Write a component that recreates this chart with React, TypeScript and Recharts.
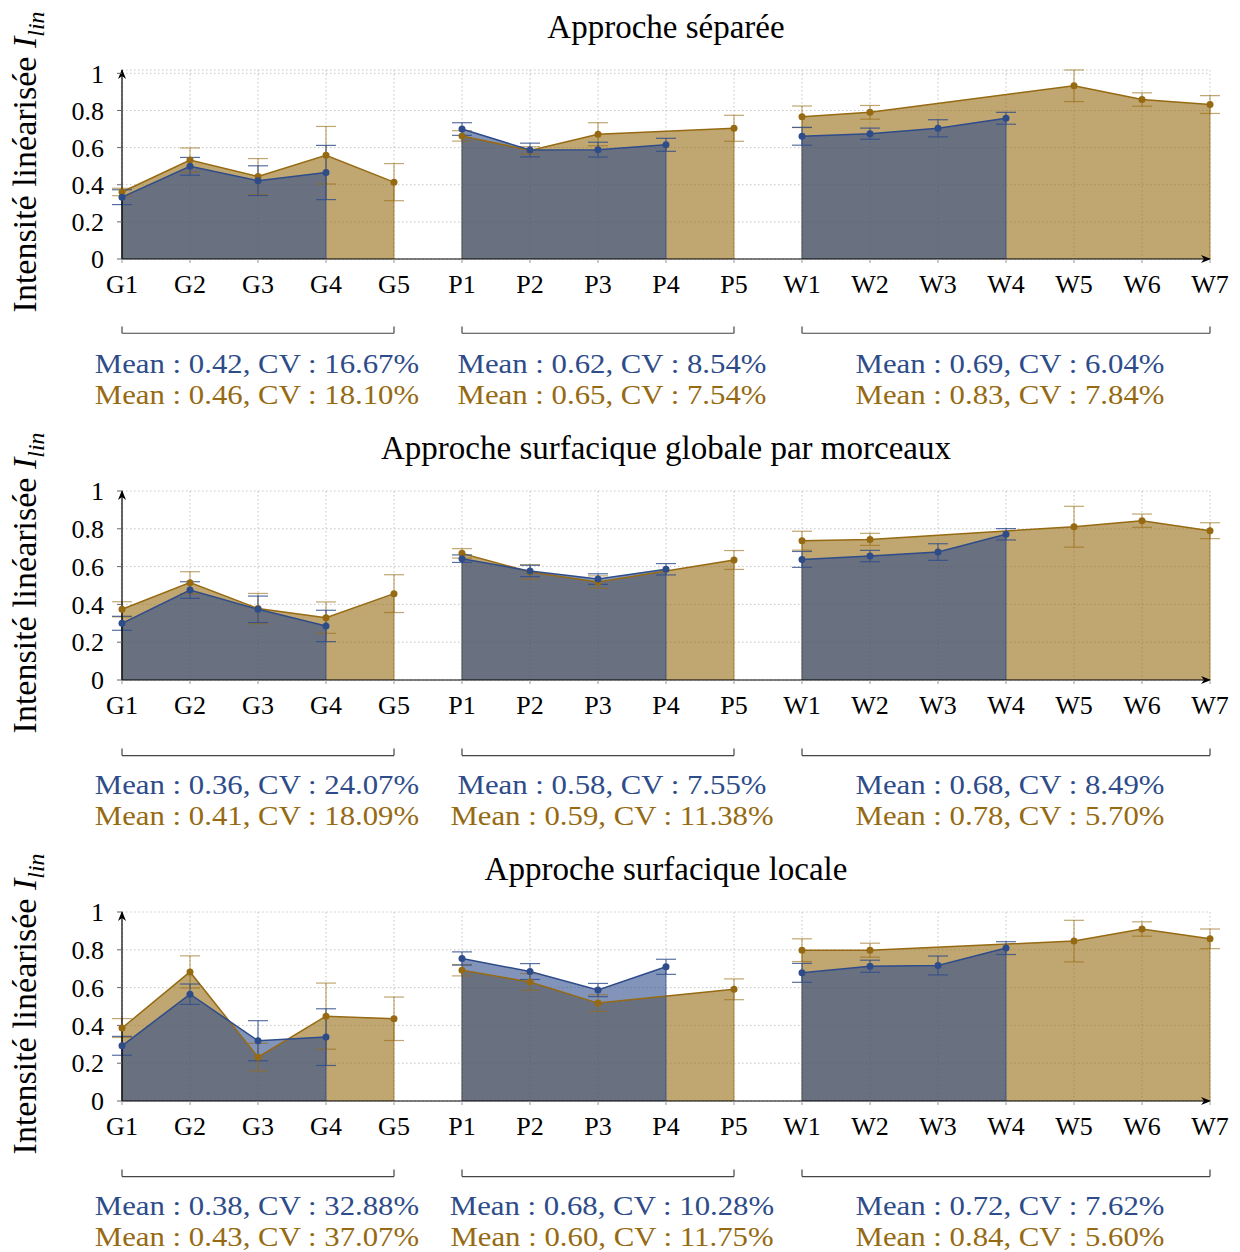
import { ComposedChart, Area, Line, XAxis, YAxis, CartesianGrid, ErrorBar, ReferenceLine } from 'recharts'

const CATEGORIES = ['G1', 'G2', 'G3', 'G4', 'G5', 'P1', 'P2', 'P3', 'P4', 'P5', 'W1', 'W2', 'W3', 'W4', 'W5', 'W6', 'W7']
const GROUPS = ['G', 'P', 'W']
const Y_TICKS = [0, 0.2, 0.4, 0.6, 0.8, 1]

// Approche séparée
const SEP_BLUE = [0.333, 0.499, 0.422, 0.466, null, 0.7, 0.587, 0.589, 0.615, null, 0.661, 0.675, 0.704, 0.758, null, null, null]
const SEP_BLUE_ERR = [0.04, 0.048, 0.08, 0.146, null, 0.034, 0.037, 0.04, 0.035, null, 0.048, 0.03, 0.046, 0.032, null, null, null]
const SEP_GOLD = [0.361, 0.533, 0.444, 0.559, 0.414, 0.663, 0.585, 0.672, null, 0.704, 0.766, 0.79, null, null, 0.933, 0.859, 0.832]
const SEP_GOLD_ERR = [0.02, 0.065, 0.097, 0.155, 0.1, 0.028, 0.02, 0.062, null, 0.07, 0.058, 0.037, null, null, 0.085, 0.036, 0.048]
const SEP_STATS_BLUE = ['Mean : 0.42, CV : 16.67%', 'Mean : 0.62, CV : 8.54%', 'Mean : 0.69, CV : 6.04%']
const SEP_STATS_GOLD = ['Mean : 0.46, CV : 18.10%', 'Mean : 0.65, CV : 7.54%', 'Mean : 0.83, CV : 7.84%']

// Approche surfacique globale par morceaux
const GLOB_BLUE = [0.3, 0.476, 0.374, 0.286, null, 0.642, 0.577, 0.534, 0.586, null, 0.638, 0.656, 0.677, 0.771, null, null, null]
const GLOB_BLUE_ERR = [0.037, 0.044, 0.07, 0.083, null, 0.02, 0.03, 0.028, 0.03, null, 0.042, 0.03, 0.044, 0.03, null, null, null]
const GLOB_GOLD = [0.374, 0.515, 0.378, 0.33, 0.457, 0.67, 0.572, 0.518, null, 0.635, 0.737, 0.744, null, null, 0.811, 0.843, 0.79]
const GLOB_GOLD_ERR = [0.04, 0.058, 0.08, 0.083, 0.1, 0.025, 0.038, 0.033, null, 0.05, 0.05, 0.032, null, null, 0.108, 0.035, 0.042]
const GLOB_STATS_BLUE = ['Mean : 0.36, CV : 24.07%', 'Mean : 0.58, CV : 7.55%', 'Mean : 0.68, CV : 8.49%']
const GLOB_STATS_GOLD = ['Mean : 0.41, CV : 18.09%', 'Mean : 0.59, CV : 11.38%', 'Mean : 0.78, CV : 5.70%']

// Approche surfacique locale
const LOC_BLUE = [0.292, 0.565, 0.319, 0.338, null, 0.754, 0.685, 0.587, 0.71, null, 0.678, 0.713, 0.717, 0.809, null, null, null]
const LOC_BLUE_ERR = [0.05, 0.054, 0.106, 0.15, null, 0.035, 0.042, 0.035, 0.04, null, 0.05, 0.032, 0.05, 0.034, null, null, null]
const LOC_GOLD = [0.386, 0.683, 0.232, 0.449, 0.435, 0.692, 0.63, 0.518, null, 0.591, 0.798, 0.798, null, null, 0.846, 0.91, 0.858]
const LOC_GOLD_ERR = [0.05, 0.085, 0.073, 0.175, 0.115, 0.03, 0.044, 0.044, null, 0.055, 0.06, 0.037, null, null, 0.11, 0.038, 0.052]
const LOC_STATS_BLUE = ['Mean : 0.38, CV : 32.88%', 'Mean : 0.68, CV : 10.28%', 'Mean : 0.72, CV : 7.62%']
const LOC_STATS_GOLD = ['Mean : 0.43, CV : 37.07%', 'Mean : 0.60, CV : 11.75%', 'Mean : 0.84, CV : 5.60%']

const BLUE = '#2e4c8a'
const GOLD = '#966a12'
const FONT = '"Liberation Serif", "DejaVu Serif", serif'
const W = 1240
const H = 421
const STAT_X = [257, 612, 1010]

function buildRows(blue, blueErr, gold, goldErr) {
  return CATEGORIES.map((cat, i) => {
    const g = cat[0]
    const row: any = { cat }
    row['blue' + g] = blue[i]
    row['blue' + g + 'Err'] = blueErr[i]
    row['gold' + g] = gold[i]
    row['gold' + g + 'Err'] = goldErr[i]
    return row
  })
}

function groupRange(g) {
  const cats = CATEGORIES.filter((c) => c[0] === g)
  return [cats[0], cats[cats.length - 1]]
}

// first and last defined point of a series within each group (closing edges of the fills)
function groupEdges(values) {
  const out = []
  GROUPS.forEach((g) => {
    const idx = CATEGORIES.map((c, i) => i).filter((i) => CATEGORIES[i][0] === g && values[i] != null)
    if (idx.length) {
      out.push({ cat: CATEGORIES[idx[0]], v: values[idx[0]] })
      out.push({ cat: CATEGORIES[idx[idx.length - 1]], v: values[idx[idx.length - 1]] })
    }
  })
  return out
}

function Panel({ title, id, blue, blueErr, gold, goldErr, statsBlue, statsGold }) {
  const rows = buildRows(blue, blueErr, gold, goldErr)
  const statStyle = { position: 'absolute', transform: 'translate(-50%,-50%) scaleX(1.14)', fontSize: 27, lineHeight: '26px', whiteSpace: 'nowrap' } as const
  return (
    <div style={{ position: 'relative', width: W, height: H, fontFamily: FONT }}>
      <ComposedChart width={W} height={H} data={rows} margin={{ top: 70, right: 30, left: 62, bottom: 132 }}>
        <defs>
          <marker id={'arr' + id} viewBox="0 0 10 8" refX="9" refY="4" markerWidth="10" markerHeight="8" markerUnits="userSpaceOnUse" orient="auto-start-reverse">
            <path d="M0,0 L10,4 L0,8 L3,4 z" fill="#000" />
          </marker>
        </defs>
        <CartesianGrid stroke="#c4c4c4" strokeDasharray="1.5 2.5" />
        <XAxis
          dataKey="cat"
          scale="point"
          padding={{ left: 0, right: 0 }}
          interval={0}
          height={30}
          tickSize={4}
          tickMargin={12}
          tickLine={{ stroke: '#999' }}
          axisLine={{ stroke: '#000', strokeWidth: 1.2, markerEnd: `url(#arr${id})` }}
          tick={{ fill: '#000', fontSize: 26, fontFamily: FONT }}
        />
        <YAxis
          domain={[0, 1]}
          ticks={Y_TICKS}
          width={60}
          tickSize={5}
          tickMargin={13}
          tickLine={{ stroke: '#666' }}
          axisLine={{ stroke: '#000', strokeWidth: 1.2, markerStart: `url(#arr${id})` }}
          tickFormatter={(v) => String(v)}
          tick={{ fill: '#000', fontSize: 26, fontFamily: FONT }}
        />
        {GROUPS.map((g) => (
          <Area key={'ga' + g} dataKey={'gold' + g} type="linear" connectNulls fill={GOLD} fillOpacity={0.6} stroke="none" isAnimationActive={false} dot={false} activeDot={false} />
        ))}
        {groupEdges(gold).map((e, i) => (
          <ReferenceLine key={'ge' + i} stroke={GOLD} strokeOpacity={0.6} strokeWidth={1.2} segment={[{ x: e.cat, y: 0 }, { x: e.cat, y: e.v }]} />
        ))}
        {GROUPS.map((g) => (
          <Line key={'gl' + g} dataKey={'gold' + g} type="linear" connectNulls stroke={GOLD} strokeWidth={1.5} dot={false} activeDot={false} isAnimationActive={false}>
            <ErrorBar dataKey={'gold' + g + 'Err'} width={10} stroke={GOLD} strokeOpacity={0.6} strokeWidth={1.2} />
          </Line>
        ))}
        {GROUPS.map((g) => (
          <Area key={'ba' + g} dataKey={'blue' + g} type="linear" connectNulls fill={BLUE} fillOpacity={0.6} stroke="none" isAnimationActive={false} dot={false} activeDot={false} />
        ))}
        {groupEdges(blue).map((e, i) => (
          <ReferenceLine key={'be' + i} stroke={BLUE} strokeOpacity={0.6} strokeWidth={1.2} segment={[{ x: e.cat, y: 0 }, { x: e.cat, y: e.v }]} />
        ))}
        {GROUPS.map((g) => (
          <Line key={'bl' + g} dataKey={'blue' + g} type="linear" connectNulls stroke={BLUE} strokeWidth={1.5} dot={false} activeDot={false} isAnimationActive={false}>
            <ErrorBar dataKey={'blue' + g + 'Err'} width={10} stroke={BLUE} strokeOpacity={0.8} strokeWidth={1.2} />
          </Line>
        ))}
        {GROUPS.map((g) => (
          <Line key={'gm' + g} dataKey={'gold' + g} stroke="none" dot={{ r: 3.5, fill: GOLD, stroke: GOLD, strokeWidth: 0 }} activeDot={false} isAnimationActive={false} />
        ))}
        {GROUPS.map((g) => (
          <Line key={'bm' + g} dataKey={'blue' + g} stroke="none" dot={{ r: 3.5, fill: BLUE, stroke: BLUE, strokeWidth: 0 }} activeDot={false} isAnimationActive={false} />
        ))}
        {GROUPS.map((g) => {
          const [a, b] = groupRange(g)
          return [
            <ReferenceLine key={'bh' + g} ifOverflow="visible" stroke="#444" strokeWidth={1.2} segment={[{ x: a, y: -0.4 }, { x: b, y: -0.4 }]} />,
            <ReferenceLine key={'bl' + g} ifOverflow="visible" stroke="#444" strokeWidth={1.2} segment={[{ x: a, y: -0.4 }, { x: a, y: -0.363 }]} />,
            <ReferenceLine key={'br' + g} ifOverflow="visible" stroke="#444" strokeWidth={1.2} segment={[{ x: b, y: -0.4 }, { x: b, y: -0.363 }]} />,
          ]
        })}
      </ComposedChart>
      <div style={{ position: 'absolute', left: 666, top: 27, transform: 'translate(-50%,-50%)', fontSize: 33, whiteSpace: 'nowrap', color: '#000' }}>{title}</div>
      <div style={{ position: 'absolute', left: 28, top: 162, transform: 'translate(-50%,-50%) rotate(-90deg)', fontSize: 34, whiteSpace: 'nowrap', color: '#000' }}>
        Intensité linéarisée <i>I</i>
        <sub style={{ fontSize: '0.7em', fontStyle: 'italic' }}>lin</sub>
      </div>
      {statsBlue.map((s, i) => (
        <div key={'sb' + i} style={{ ...statStyle, left: STAT_X[i], top: 364, color: BLUE }}>{s}</div>
      ))}
      {statsGold.map((s, i) => (
        <div key={'sg' + i} style={{ ...statStyle, left: STAT_X[i], top: 395, color: GOLD }}>{s}</div>
      ))}
    </div>
  )
}

export default function App() {
  return (
    <div style={{ position: 'absolute', left: 0, top: 0, width: W, background: '#fff' }}>
      <Panel id="a" title="Approche séparée" blue={SEP_BLUE} blueErr={SEP_BLUE_ERR} gold={SEP_GOLD} goldErr={SEP_GOLD_ERR} statsBlue={SEP_STATS_BLUE} statsGold={SEP_STATS_GOLD} />
      <Panel id="b" title="Approche surfacique globale par morceaux" blue={GLOB_BLUE} blueErr={GLOB_BLUE_ERR} gold={GLOB_GOLD} goldErr={GLOB_GOLD_ERR} statsBlue={GLOB_STATS_BLUE} statsGold={GLOB_STATS_GOLD} />
      <Panel id="c" title="Approche surfacique locale" blue={LOC_BLUE} blueErr={LOC_BLUE_ERR} gold={LOC_GOLD} goldErr={LOC_GOLD_ERR} statsBlue={LOC_STATS_BLUE} statsGold={LOC_STATS_GOLD} />
    </div>
  )
}
